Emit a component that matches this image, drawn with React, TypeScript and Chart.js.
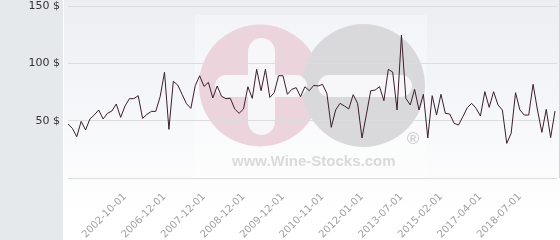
import React, { useEffect, useRef } from "react";
import { Chart, registerables } from "chart.js";

Chart.register(...registerables);

const values: number[] = [
  47.1, 43.3, 36, 49.4, 41.9, 51.5, 55, 59.3, 51.5, 56.4, 58.4, 64.5, 52.9, 62.8, 69.2, 69.2, 71.8,
  52, 55.5, 58.1, 58.1, 70.9, 92.2, 42.4, 84.3, 81.1, 73, 64.8, 60.7, 80.5, 89.2, 79.9, 83.4, 69.8,
  80.2, 71.2, 69.2, 69.5, 60.2, 56.4, 60.2, 79.6, 69.5, 94.8, 76.1, 94.8, 70.3, 74.4, 89.2, 89.2, 73,
  77.3, 78.8, 70.9,
  79.6, 76.1, 80.8, 80.2, 81.7, 73.8, 44.2, 59.3, 65.1, 62.8, 60.2, 72.7, 65.1, 34.9, 55.2, 76.1,
  76.7, 79.6, 67.4, 94.8, 92.4, 59.3, 124.7, 69.5, 63.7, 77.3, 59.3, 73, 34.9, 71.8, 54.9, 73, 56.4,
  55.8, 47.7, 46.2, 53.5, 61.3, 65.1, 60.8, 54.1, 75.3, 61.6, 75.3, 63.7, 59.3, 30.2, 39, 74.4, 59.3,
  54.9, 54.9, 81.7, 59.3, 39.8, 59.9, 35.2, 58.4,
];

const tickIndices: number[] = [13, 22, 31, 40, 49, 58, 67, 76, 85, 94, 103];
const tickLabels: string[] = [
  "2002-10-01", "2006-12-01", "2007-12-01", "2008-12-01", "2009-12-01", "2010-11-01",
  "2012-01-01", "2013-07-01", "2015-02-01", "2017-04-01", "2018-07-01",
];
const yTicks: number[] = [0, 50, 100, 150];

const backgroundPlugin = {
  id: "bgWatermark",
  beforeDraw(chart: any) {
    const ctx = chart.ctx as CanvasRenderingContext2D;
    ctx.save();
    ctx.fillStyle = "#e6e9ec";
    ctx.fillRect(0, 0, 63, 240);
    ctx.fillStyle = "#ffffff";
    ctx.fillRect(63, 0, 1, 240);
    const g = ctx.createLinearGradient(0, 0, 0, 215);
    g.addColorStop(0, "#eceef3");
    g.addColorStop(1, "#ffffff");
    ctx.fillStyle = g;
    ctx.fillRect(64, 0, 496, 240);

    // watermark
    ctx.fillStyle = "rgba(255,255,255,0.35)";
    ctx.fillRect(195, 15, 232, 163);
    ctx.fillStyle = "#ebd4db";
    ctx.beginPath();
    ctx.arc(260, 85.5, 61, 0, Math.PI * 2);
    ctx.fill();
    ctx.fillStyle = "#d9d9db";
    ctx.beginPath();
    ctx.arc(363.5, 85.5, 61.5, 0, Math.PI * 2);
    ctx.fill();
    ctx.fillStyle = "#f7f7f9";
    ctx.beginPath();
    (ctx as any).roundRect(248, 38, 27, 97, 13.5);
    ctx.fill();
    ctx.beginPath();
    (ctx as any).roundRect(215, 75, 92, 22, 11);
    ctx.fill();
    ctx.beginPath();
    (ctx as any).roundRect(318, 75, 94, 22, 11);
    ctx.fill();
    ctx.fillStyle = "#dadada";
    ctx.font = 'bold 15px "Liberation Sans", Arial, sans-serif';
    ctx.textAlign = "left";
    ctx.textBaseline = "alphabetic";
    ctx.fillText("www.Wine-Stocks.com", 232, 166);
    ctx.font = 'bold 17px "Liberation Sans", Arial, sans-serif';
    ctx.fillStyle = "#d2d2d2";
    ctx.textAlign = "center";
    ctx.textBaseline = "middle";
    ctx.fillText("®", 413, 139);

    // right border
    ctx.fillStyle = "#d6d6d6";
    ctx.fillRect(559, 0, 1, 178);
    ctx.restore();
  },
};

export default function App() {
  const canvasRef = useRef<HTMLCanvasElement | null>(null);

  useEffect(() => {
    document.body.style.margin = "0";
    const canvas = canvasRef.current;
    if (!canvas) return;
    const chart = new Chart(canvas, {
      type: "line",
      data: {
        datasets: [
          {
            data: values.map((v, i) => ({ x: i, y: v })),
            borderColor: "#3c1f2c",
            borderWidth: 1,
            pointRadius: 0,
            tension: 0,
            fill: false,
          },
        ],
      },
      options: {
        animation: false,
        responsive: false,
        events: [],
        layout: { padding: { right: 3, top: 6, left: 0, bottom: 0 } },
        plugins: { legend: { display: false }, tooltip: { enabled: false } },
        scales: {
          x: {
            type: "linear",
            min: 0,
            max: 111.45,
            grid: { display: false },
            border: { display: false },
            afterBuildTicks: (scale: any) => {
              scale.ticks = tickIndices.map((v) => ({ value: v }));
            },
            afterFit: (scale: any) => {
              scale.height = 62;
            },
            ticks: {
              autoSkip: false,
              minRotation: 45,
              maxRotation: 45,
              padding: 5,
              color: "#a0a0a0",
              font: { family: "'DejaVu Sans'", size: 10 },
              callback: (v: any) => {
                const k = tickIndices.indexOf(Number(v));
                return k >= 0 ? tickLabels[k] : "";
              },
            },
          },
          y: {
            min: 0,
            max: 150,
            afterBuildTicks: (scale: any) => {
              scale.ticks = yTicks.map((v) => ({ value: v }));
            },
            afterFit: (scale: any) => {
              scale.width = 68;
              scale.paddingTop = 0;
              scale.paddingBottom = 0;
            },
            grid: { color: "#dcdcdc", drawTicks: false },
            border: { display: false },
            ticks: {
              padding: 8,
              color: "#333333",
              font: { family: "'DejaVu Sans'", size: 11 },
              callback: (v: any) => (Number(v) === 0 ? "" : v + " $"),
            },
          },
        },
      },
      plugins: [backgroundPlugin],
    } as any);
    return () => chart.destroy();
  }, []);

  return (
    <div style={{ width: 560, height: 240 }}>
      <canvas ref={canvasRef} width={560} height={240} />
    </div>
  );
}
